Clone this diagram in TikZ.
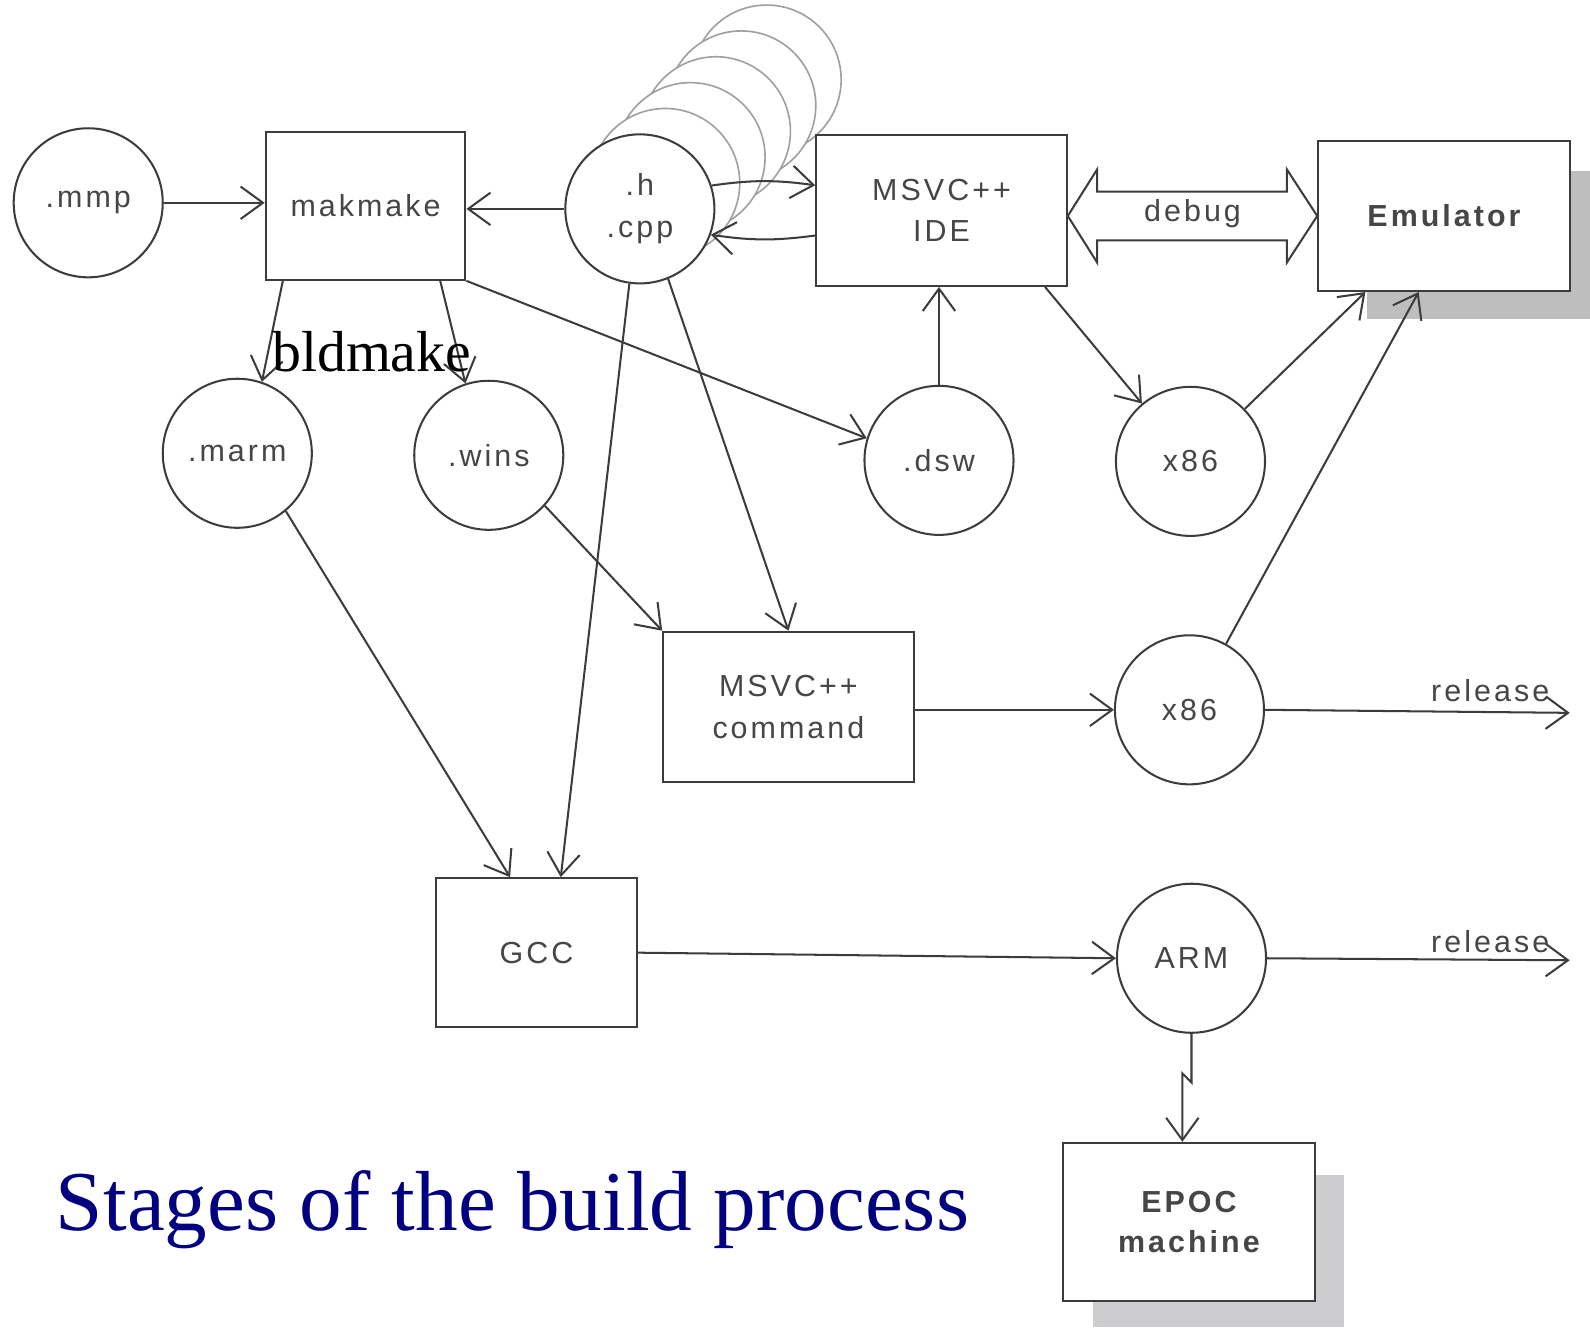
\documentclass[tikz,border=0pt]{standalone}
\usepackage{fontspec}
\setmainfont{Liberation Serif}
\newfontfamily\labfont[LetterSpace=10]{Liberation Sans}
\usetikzlibrary{arrows.meta,calc}
\definecolor{linecol}{RGB}{60,60,60}
\definecolor{textcol}{RGB}{70,70,70}
\definecolor{backcol}{RGB}{160,160,160}
\definecolor{shadowA}{RGB}{190,190,190}
\definecolor{shadowB}{RGB}{205,205,208}
\definecolor{titlecol}{RGB}{0,0,128}
\newcommand\lab{\labfont\fontsize{30}{41}\selectfont}
\newcommand\labb{\labfont\bfseries\fontsize{30}{40}\selectfont}
\tikzset{
  circ/.style={circle,draw=linecol,line width=2pt,minimum size=147pt,inner sep=0pt,fill=white,text=textcol,font=\lab,align=center},
  backcirc/.style={circle,draw=backcol,line width=1.6pt,minimum size=147pt,inner sep=0pt,fill=white},
  boxnode/.style={rectangle,draw=linecol,line width=2pt,inner sep=0pt,fill=white,text=textcol,font=\lab,align=center},
  arr/.style={draw=linecol,line width=2pt,-{Straight Barb[length=22pt,width=32pt,line width=2pt]}},
  rellabel/.style={anchor=base east,text=textcol,font=\lab,inner sep=0pt}
}
\begin{document}
\begin{tikzpicture}[x=1pt,y=1pt]
\useasboundingbox (0,0) rectangle (1568,1309);
\fill[white] (0,0) rectangle (1568,1309);
% shadows
\fill[shadowA] (1348,994) rectangle (1568,1140);
\fill[shadowB] (1078,0) rectangle (1325,150);
% stacked .h/.cpp circles
\foreach \k in {5,4,3,2,1}{
  \node[backcirc] (hb\k) at ({631+25*\k},{1103+25.5*\k}) {};
}
\node[circ] (hcpp) at (631,1103) {.h\\.cpp};
% nodes
\node[circ] (mmp) at (87,1109) {.mmp};
\node[boxnode,minimum width=197pt,minimum height=146pt] (makmake) at (360.5,1106) {makmake};
\node[boxnode,minimum width=247pt,minimum height=149pt] (IDE) at (928.5,1101.5) {MSVC++\\IDE};
\node[boxnode,minimum width=248pt,minimum height=148pt,font=\labb] (emu) at (1424,1096) {Emulator};
\node[circ] (marm) at (234,862) {.marm};
\node[circ] (wins) at (482,860) {.wins};
\node[circ] (dsw) at (926,855) {.dsw};
\node[circ] (x86a) at (1174,854) {x86};
\node[circ] (x86b) at (1173,609) {x86};
\node[boxnode,minimum width=247pt,minimum height=148pt] (cmd) at (777.5,612) {MSVC++\\command};
\node[boxnode,minimum width=198pt,minimum height=147pt] (GCC) at (529,369.5) {GCC};
\node[circ] (ARM) at (1175,364) {ARM};
\node[boxnode,minimum width=249pt,minimum height=156pt,font=\labb] (EPOC) at (1172.5,104) {EPOC\\machine};
\coordinate (rel1) at (1548,606);
\coordinate (rel2) at (1548,362);
% debug double arrow
\draw[draw=linecol,line width=2pt,fill=white,line join=miter]
  (IDE.east |- emu.west) -- (1082,1142) -- (1082,1120) -- (1269,1120) -- (1269,1142)
  -- (emu.west) -- (1269,1050) -- (1269,1072) -- (1082,1072) -- (1082,1050) -- cycle;
\node[text=textcol,font=\lab] (debug) at (1176,1098) {debug};
% connectors
\draw[arr] (mmp.east) -- (mmp.east -| makmake.west);
\draw[arr] (hcpp.west) -- (hcpp.west -| makmake.east);
\draw[arr] (hcpp.18) to[bend left=8] ($(IDE.north west)!0.336!(IDE.south west)$);
\draw[arr] ($(IDE.north west)!0.664!(IDE.south west)$) to[bend left=8] (hcpp.-20);
\draw[arr] ($(makmake.south west)!0.09!(makmake.south east)$) -- (marm.71);
\draw[arr] ($(makmake.south west)!0.87!(makmake.south east)$) -- (wins.108);
\draw[arr] (makmake.south east) -- (dsw.163);
\draw[arr] (hcpp.-98) -- ($(GCC.north west)!0.62!(GCC.north east)$);
\draw[arr] (hcpp.-68) -- (cmd.north);
\draw[arr] (marm.-50) -- ($(GCC.north west)!0.37!(GCC.north east)$);
\draw[arr] (wins.-42) -- (cmd.north west);
\draw[arr] (dsw.north) -- (dsw.north |- IDE.south);
\draw[arr] ($(IDE.south west)!0.91!(IDE.south east)$) -- (x86a.130);
\draw[arr] (x86a.44) -- ($(emu.south west)!0.19!(emu.south east)$);
\draw[arr] (x86b.61) -- ($(emu.south west)!0.40!(emu.south east)$);
\draw[arr] (x86b.west -| cmd.east) -- (x86b.west);
\draw[arr] (x86b.east) -- (rel1);
\draw[arr] (GCC.east) -- (ARM.west);
\draw[arr] (ARM.east) -- (rel2);
\draw[arr] (ARM.south) -- ++(0,-48) -- ++(-9,9) coordinate (jog) -- (jog |- EPOC.north);
% labels
\node[rellabel] (r1) at (1528,617) {release};
\node[rellabel] (r2) at (1528,370) {release};
\node[anchor=base,inner sep=0pt,font=\fontsize{57}{60}\selectfont] (bld) at (366.5,943) {bldmake};
\node[anchor=base west,inner sep=0pt,text=titlecol,font=\fontsize{84}{90}\selectfont] (title) at (55,96) {Stages of the build process};
\end{tikzpicture}
\end{document}
